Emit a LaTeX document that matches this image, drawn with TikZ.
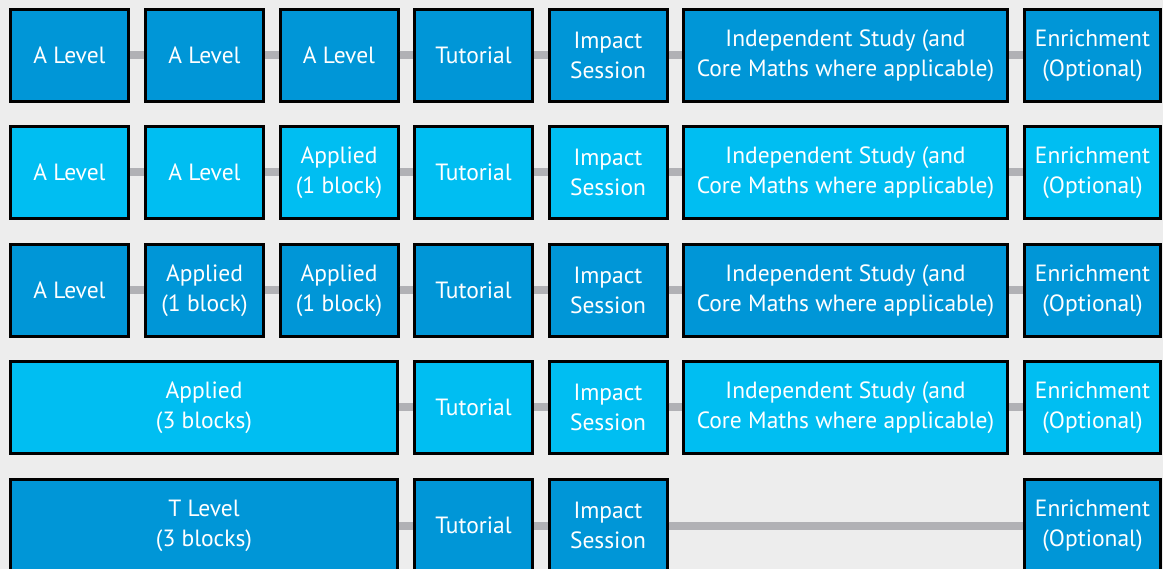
\documentclass[tikz,border=0pt]{standalone}
\usepackage{fontspec}
\setmainfont{PT Sans}
\definecolor{bgc}{HTML}{EDEDED}
\definecolor{darkb}{HTML}{0096D7}
\definecolor{lightb}{HTML}{00BEF2}
\definecolor{conn}{HTML}{B1B1B5}
\tikzset{
  box/.style={draw=black, line width=3pt, text=white, align=center, inner sep=0pt,
    minimum height=92pt, font=\fontsize{23.5}{30}\selectfont},
  dk/.style={box, fill=darkb},
  lt/.style={box, fill=lightb},
  wA/.style={minimum width=118pt},
  wI/.style={minimum width=324pt},
  wE/.style={minimum width=136pt},
  wW/.style={minimum width=387pt},
  link/.style={draw=conn, line width=8pt}
}
\begin{document}
\begin{tikzpicture}[x=1pt,y=-1pt]
\useasboundingbox[fill=bgc] (0,0) rectangle (1163,569);
% row 1
\node[dk,wA] (a1) at (69.5,55.5) {A Level};
\node[dk,wA] (b1) at (204.5,55.5) {A Level};
\node[dk,wA] (c1) at (339,55.5) {A Level};
\node[dk,wA] (d1) at (473.5,55.5) {Tutorial};
\node[dk,wA] (e1) at (608,55.5) {Impact\\Session};
\node[dk,wI] (f1) at (845.5,55.5) {Independent Study (and\\Core Maths where applicable)};
\node[dk,wE] (g1) at (1092.5,55.5) {Enrichment\\(Optional)};
% row 2
\node[lt,wA] (a2) at (69.5,172.5) {A Level};
\node[lt,wA] (b2) at (204.5,172.5) {A Level};
\node[lt,wA] (c2) at (339,172.5) {Applied\\(1 block)};
\node[lt,wA] (d2) at (473.5,172.5) {Tutorial};
\node[lt,wA] (e2) at (608,172.5) {Impact\\Session};
\node[lt,wI] (f2) at (845.5,172.5) {Independent Study (and\\Core Maths where applicable)};
\node[lt,wE] (g2) at (1092.5,172.5) {Enrichment\\(Optional)};
% row 3
\node[dk,wA] (a3) at (69.5,290.5) {A Level};
\node[dk,wA] (b3) at (204.5,290.5) {Applied\\(1 block)};
\node[dk,wA] (c3) at (339,290.5) {Applied\\(1 block)};
\node[dk,wA] (d3) at (473.5,290.5) {Tutorial};
\node[dk,wA] (e3) at (608,290.5) {Impact\\Session};
\node[dk,wI] (f3) at (845.5,290.5) {Independent Study (and\\Core Maths where applicable)};
\node[dk,wE] (g3) at (1092.5,290.5) {Enrichment\\(Optional)};
% row 4
\node[lt,wW] (a4) at (204,407.5) {Applied\\(3 blocks)};
\node[lt,wA] (d4) at (473.5,407.5) {Tutorial};
\node[lt,wA] (e4) at (608,407.5) {Impact\\Session};
\node[lt,wI] (f4) at (845.5,407.5) {Independent Study (and\\Core Maths where applicable)};
\node[lt,wE] (g4) at (1092.5,407.5) {Enrichment\\(Optional)};
% row 5
\node[dk,wW] (a5) at (204,525.5) {T Level\\(3 blocks)};
\node[dk,wA] (d5) at (473.5,525.5) {Tutorial};
\node[dk,wA] (e5) at (608,525.5) {Impact\\Session};
\node[dk,wE] (g5) at (1092.5,525.5) {Enrichment\\(Optional)};
% connectors
\foreach \r in {1,2,3}{
  \draw[link] (a\r.east) -- (b\r.west);
  \draw[link] (b\r.east) -- (c\r.west);
  \draw[link] (c\r.east) -- (d\r.west);
}
\foreach \r in {1,2,3,4}{
  \draw[link] (d\r.east) -- (e\r.west);
  \draw[link] (e\r.east) -- (f\r.west);
  \draw[link] (f\r.east) -- (g\r.west);
}
\draw[link] (a4.east) -- (d4.west);
\draw[link] (a5.east) -- (d5.west);
\draw[link] (d5.east) -- (e5.west);
\draw[link] (e5.east) -- (g5.west);
\end{tikzpicture}
\end{document}
